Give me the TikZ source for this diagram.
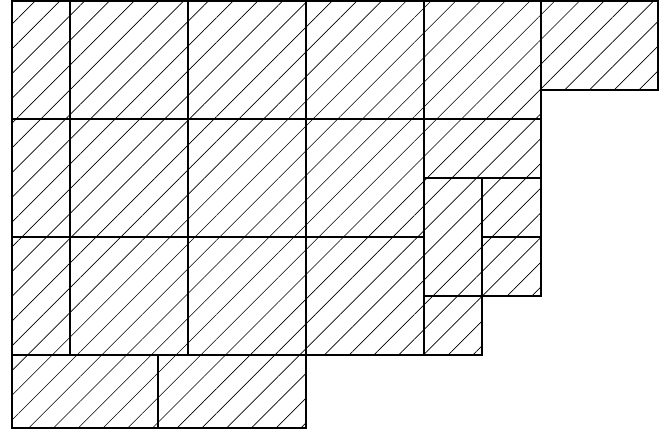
\documentclass[tikz,border=0pt]{standalone}
\usetikzlibrary{patterns.meta}

\tikzset{
  cell/.style={draw, line width=2pt,
    pattern={Lines[angle=45, distance=17.5pt, line width=0.7pt]}}
}

\begin{document}
\begin{tikzpicture}[x=1pt, y=-1pt]
  \useasboundingbox (0,0) rectangle (667,432);

  \foreach \ya/\yb in {1/119, 119/237, 237/355}
    \foreach \xa/\xb in {12/70, 70/188, 188/306, 306/424}
      \draw[cell] (\xa,\ya) rectangle (\xb,\yb);

  \draw[cell] (424,1) rectangle (541,119);
  \draw[cell] (541,1) rectangle (658,90);
  \draw[cell] (424,119) rectangle (541,178);
  \draw[cell] (424,178) rectangle (482,296);
  \draw[cell] (482,178) rectangle (541,237);
  \draw[cell] (482,237) rectangle (541,296);
  \draw[cell] (424,296) rectangle (482,355);
  \draw[cell] (12,355) rectangle (158,428);
  \draw[cell] (158,355) rectangle (306,428);
\end{tikzpicture}
\end{document}
